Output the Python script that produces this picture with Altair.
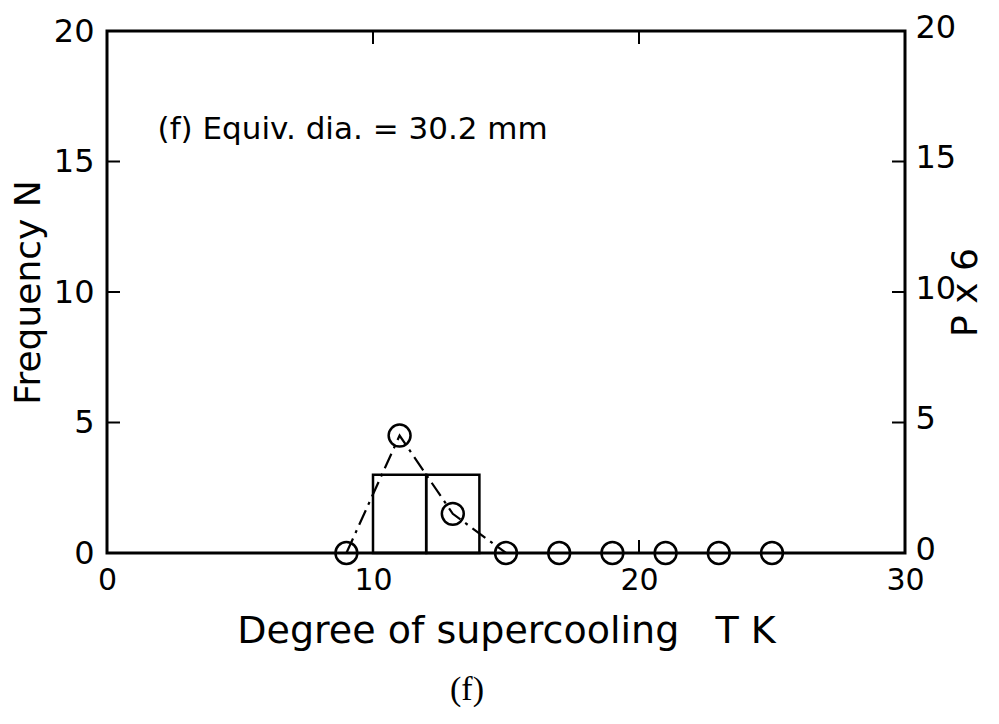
import altair as alt
import pandas as pd

# Histogram (Frequency N)
bin_start = [10, 12]
bin_end = [12, 14]
freq = [3, 3]

# Probability x 6 (circles, dash-dot line)
p_x = [9, 11, 13, 15, 17, 19, 21, 23, 25]
p_val = [0, 4.5, 1.5, 0, 0, 0, 0, 0, 0]

x_ticks = [0, 10, 20, 30]
y_ticks = [0, 5, 10, 15, 20]
inner_y_ticks = [5, 10, 15]
inner_x_ticks = [10, 20]

annotation = ["(f) Equiv. dia. = 30.2 mm"]
caption = ["(f)"]
x_title = "Degree of supercooling\u00a0\u00a0\u00a0T\u00a0K"

W, H = 798, 522
TICK = 13
FONT = "DejaVu Sans"

hist_df = pd.DataFrame({"start": bin_start, "end": bin_end, "freq": freq})
p_df = pd.DataFrame({"x": p_x, "p": p_val})
ytick_df = pd.DataFrame({"v": inner_y_ticks})
xtick_df = pd.DataFrame({"v": inner_x_ticks})
ann_df = pd.DataFrame({"x": [1.9], "y": [16.2], "t": annotation})
cap_df = pd.DataFrame({"t": caption})

xscale = alt.Scale(domain=[0, 30], nice=False, zero=False)
yscale = alt.Scale(domain=[0, 20], nice=False, zero=False)

xaxis = alt.Axis(values=x_ticks, tickSize=0, domain=False, grid=False,
                 labelFont=FONT, labelFontSize=30, labelColor="black",
                 labelPadding=12, title=x_title,
                 titleFont=FONT, titleFontSize=38, titleFontWeight="normal",
                 titleColor="black", titlePadding=17, labelFlush=False)

yaxis_left = alt.Axis(values=y_ticks, tickSize=0, domain=False, grid=False,
                      orient="left", labelFont=FONT, labelFontSize=32,
                      labelColor="black", labelPadding=13, title="Frequency N",
                      titleFont=FONT, titleFontSize=36, titleFontWeight="normal",
                      titleColor="black", titlePadding=6, labelFlush=False)

yaxis_right = alt.Axis(values=y_ticks, tickSize=0, domain=False, grid=False,
                       orient="right", labelFont=FONT, labelFontSize=32,
                       labelColor="black", labelPadding=10, labelOffset=-4,
                       title="P x 6", titleAngle=270, titleBaseline="middle",
                       titleFont=FONT, titleFontSize=36, titleFontWeight="normal",
                       titleColor="black", titlePadding=10, labelFlush=False)

bars = alt.Chart(hist_df).mark_rect(fillOpacity=0, stroke="black", strokeWidth=2.5).encode(
    x=alt.X("start:Q", scale=xscale, axis=xaxis),
    x2="end:Q",
    y=alt.Y("freq:Q", scale=yscale, axis=yaxis_left),
    y2=alt.datum(0),
)

line = alt.Chart(p_df).mark_line(color="black", strokeWidth=2.2,
                                 strokeDash=[16, 6, 3, 6]).encode(
    x=alt.X("x:Q", scale=xscale, axis=xaxis),
    y=alt.Y("p:Q", scale=yscale, axis=yaxis_right),
)

points = alt.Chart(p_df).mark_point(shape="circle", filled=False, color="black",
                                    strokeWidth=2.5, size=480, opacity=1).encode(
    x=alt.X("x:Q", scale=xscale, axis=xaxis),
    y=alt.Y("p:Q", scale=yscale, axis=None),
)

left_ticks = alt.Chart(ytick_df).mark_rule(color="black", strokeWidth=2).encode(
    x=alt.value(0), x2=alt.value(TICK),
    y=alt.Y("v:Q", scale=yscale, axis=None),
)
right_ticks = alt.Chart(ytick_df).mark_rule(color="black", strokeWidth=2).encode(
    x=alt.value(W - TICK), x2=alt.value(W),
    y=alt.Y("v:Q", scale=yscale, axis=None),
)
top_ticks = alt.Chart(xtick_df).mark_rule(color="black", strokeWidth=2).encode(
    x=alt.X("v:Q", scale=xscale, axis=xaxis),
    y=alt.value(0), y2=alt.value(TICK),
)
bottom_ticks = alt.Chart(xtick_df).mark_rule(color="black", strokeWidth=2).encode(
    x=alt.X("v:Q", scale=xscale, axis=xaxis),
    y=alt.value(H - TICK), y2=alt.value(H),
)

ann = alt.Chart(ann_df).mark_text(font=FONT, fontSize=31, color="black",
                                  align="left", baseline="middle").encode(
    x=alt.X("x:Q", scale=xscale, axis=xaxis),
    y=alt.Y("y:Q", scale=yscale, axis=None),
    text="t:N",
)

cap = alt.Chart(cap_df).mark_text(font="Liberation Serif", fontSize=34, color="black",
                                  align="center", baseline="middle").encode(
    x=alt.value(360), y=alt.value(659), text="t:N",
)

chart = alt.layer(bars, line, points, left_ticks, right_ticks, top_ticks,
                  bottom_ticks, ann, cap).resolve_scale(
    y="independent"
).properties(
    width=W, height=H,
    autosize=alt.AutoSizeParams(type="none"),
    padding={"left": 99, "top": 23, "right": 80, "bottom": 155},
    background="white",
).configure_view(stroke="black", strokeWidth=3)

chart.save("out.html", embed_options={"renderer": "svg", "actions": False})
